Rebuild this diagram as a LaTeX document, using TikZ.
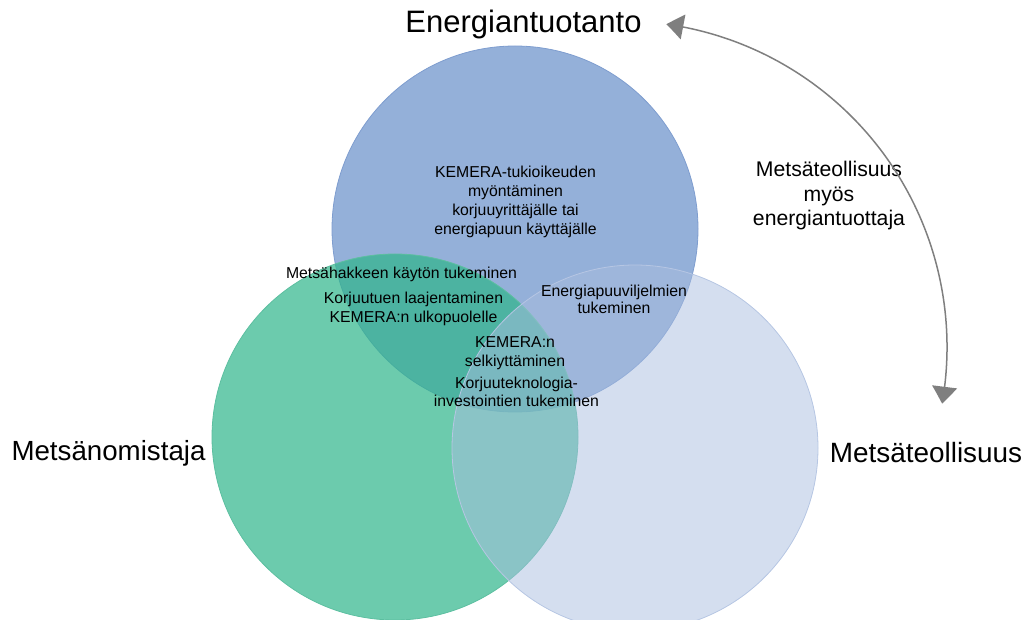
\documentclass[tikz,border=0pt]{standalone}
\usepackage{fontspec}
\setmainfont{Liberation Sans}
\usetikzlibrary{arrows.meta,bending}
\definecolor{topblue}{HTML}{5B85C4}
\definecolor{topedge}{HTML}{7E9DCF}
\definecolor{leftgreen}{HTML}{2EB58A}
\definecolor{leftedge}{HTML}{5CBFA0}
\definecolor{rightblue}{HTML}{A9BEE0}
\definecolor{rightedge}{HTML}{B6C6E3}
\definecolor{arcgray}{HTML}{7F7F7F}
\begin{document}
\begin{tikzpicture}[x=1pt,y=1pt,
  venn/.style={circle, minimum size=366pt, inner sep=0pt, line width=0.8pt},
  small/.style={font=\fontsize{15.8}{19}\selectfont, align=center, inner sep=0pt, anchor=north},
  big/.style={font=\fontsize{28}{33}\selectfont, inner sep=0pt, anchor=base},
  link/.style={draw=arcgray, line width=1.5pt,
    {Triangle[length=17pt,width=25pt,bend]}-{Triangle[length=17pt,width=25pt,bend]}}]
\useasboundingbox (0,0) rectangle (1033,-620);
% circles
\node[venn, fill=topblue, fill opacity=0.65, draw=topedge] (energia) at (515,-229) {};
\node[venn, fill=leftgreen, fill opacity=0.7, draw=leftedge] (omistaja) at (395,-437) {};
\node[venn, fill=rightblue, fill opacity=0.5, draw=rightedge] (teollisuus) at (635,-448) {};
% big labels
\node[big, font=\fontsize{31}{36}\selectfont] (tEnergia) at (523.5,-33) {Energiantuotanto};
\node[big, font=\fontsize{27.7}{33}\selectfont] (tOmistaja) at (108.5,-460) {Metsänomistaja};
\node[big, font=\fontsize{27.9}{33}\selectfont] (tTeoll) at (926,-462) {Metsäteollisuus};
% small labels
\node[small] (kemera) at (515.5,-163.7) {\strut KEMERA-tukioikeuden\\\strut myöntäminen\\\strut korjuuyrittäjälle tai\\\strut energiapuun käyttäjälle};
\node[small, anchor=base] (hake) at (401.5,-278.3) {Metsähakkeen käytön tukeminen};
\node[small] (korjuutuki) at (413.5,-289.7) {\strut Korjuutuen laajentaminen\\\strut KEMERA:n ulkopuolelle};
\node[small, font=\fontsize{15.8}{17.5}\selectfont] (viljelma) at (614,-283.7) {\strut Energiapuuviljelmien\\\strut tukeminen};
\node[small, font=\fontsize{15.8}{18.7}\selectfont] (selkeys) at (515,-334.2) {\strut KEMERA:n\\\strut selkiyttäminen};
\node[small, font=\fontsize{15.8}{18.5}\selectfont] (teknologia) at (516.5,-375.3) {\strut Korjuuteknologia-\\\strut investointien tukeminen};
% arc label
\node[small, font=\fontsize{21.2}{24.2}\selectfont] (myos) at (829,-159.8) {\strut Metsäteollisuus\\\strut myös\\\strut energiantuottaja};
% double arrow
\coordinate (aS) at (666.4,-24.2);
\draw[link] (aS) arc[start angle=82, end angle=-10, radius=326] coordinate (aE);
\end{tikzpicture}
\end{document}
